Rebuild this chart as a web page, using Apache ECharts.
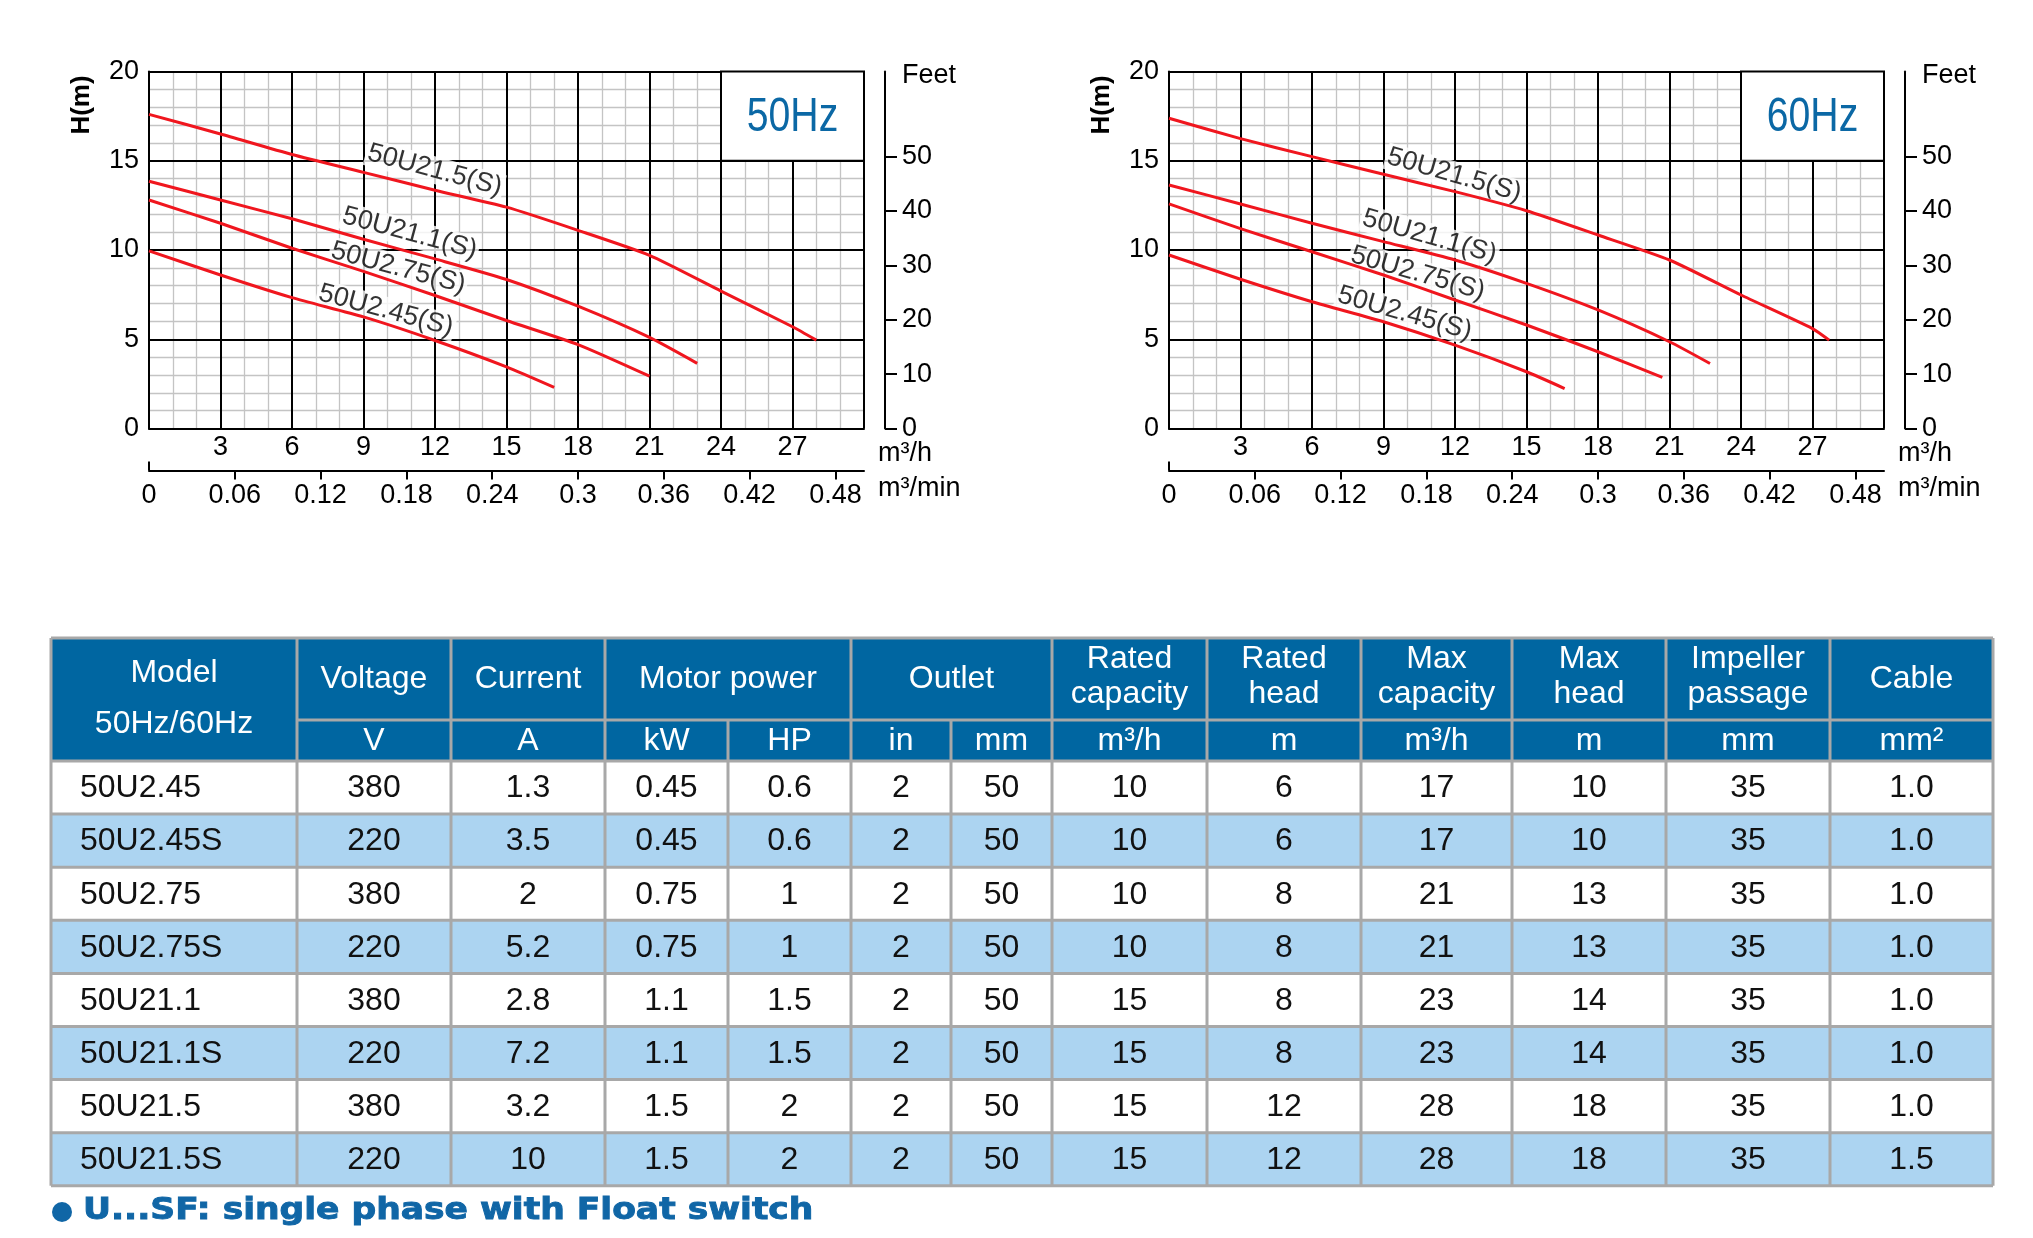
<!DOCTYPE html>
<html>
<head>
<meta charset="utf-8">
<title>50U pump curves</title>
<script src="https://cdn.jsdelivr.net/npm/echarts@6.0.0/dist/echarts.min.js"></script>
<style>
html, body { margin: 0; padding: 0; background: #fff; }
#main { width: 2033px; height: 1238px; }
</style>
</head>
<body>
<div id="main"></div>
<script>
// curve names
var curveNames = ['50U2.45(S)', '50U2.75(S)', '50U21.1(S)', '50U21.5(S)'];

// 50Hz : flow m3/h, head m
var q50_245 = [0, 3, 6, 9, 12, 15, 17];
var h50_245 = [9.95, 8.6, 7.33, 6.25, 4.93, 3.45, 2.3];
var q50_275 = [0, 3, 6, 9, 12, 15, 18, 21];
var h50_275 = [12.8, 11.5, 10.1, 8.8, 7.45, 6.05, 4.7, 2.93];
var q50_211 = [0, 3, 6, 9, 12, 15, 18, 21, 23];
var h50_211 = [13.85, 12.8, 11.75, 10.6, 9.5, 8.35, 6.85, 5.1, 3.65];
var q50_215 = [0, 3, 6, 9, 12, 15, 18, 21, 24, 27, 28];
var h50_215 = [17.6, 16.5, 15.35, 14.35, 13.35, 12.4, 11.1, 9.7, 7.7, 5.7, 4.95];

// 60Hz : flow m3/h, head m
var q60_245 = [0, 3, 6, 9, 12, 15, 16.6];
var h60_245 = [9.72, 8.36, 7.1, 5.98, 4.67, 3.18, 2.24];
var q60_275 = [0, 3, 6, 9, 12, 15, 18, 20.7];
var h60_275 = [12.58, 11.2, 9.9, 8.6, 7.2, 5.8, 4.3, 2.86];
var q60_211 = [0, 3, 6, 9, 12, 15, 18, 21, 22.7];
var h60_211 = [13.64, 12.58, 11.5, 10.47, 9.44, 8.13, 6.64, 4.86, 3.64];
var q60_215 = [0, 3, 6, 9, 12, 15, 18, 21, 24, 27, 27.7];
var h60_215 = [17.38, 16.24, 15.23, 14.24, 13.27, 12.2, 10.84, 9.44, 7.48, 5.6, 4.95];

// where the curve names sit (flow, head)
var lab50Q = [9.94, 10.46, 10.94, 11.99];
var lab50H = [6.62, 8.99, 10.94, 14.47];
var lab60Q = [9.89, 10.44, 10.93, 11.97];
var lab60H = [6.45, 8.69, 10.75, 14.2];

// tick labels
var flowTicks = [3, 6, 9, 12, 15, 18, 21, 24, 27];
var minTicks = [0, 0.06, 0.12, 0.18, 0.24, 0.3, 0.36, 0.42, 0.48];
var feetTicks = [0, 10, 20, 30, 40, 50];
var freqNames = ['50Hz', '60Hz'];

// table
var tModel = ['50U2.45', '50U2.45S', '50U2.75', '50U2.75S', '50U21.1', '50U21.1S', '50U21.5', '50U21.5S'];
var tVolt = ['380', '220', '380', '220', '380', '220', '380', '220'];
var tCurrent = ['1.3', '3.5', '2', '5.2', '2.8', '7.2', '3.2', '10'];
var tKw = ['0.45', '0.45', '0.75', '0.75', '1.1', '1.1', '1.5', '1.5'];
var tHp = ['0.6', '0.6', '1', '1', '1.5', '1.5', '2', '2'];
var tIn = ['2', '2', '2', '2', '2', '2', '2', '2'];
var tMm = ['50', '50', '50', '50', '50', '50', '50', '50'];
var tRatedQ = ['10', '10', '10', '10', '15', '15', '15', '15'];
var tRatedH = ['6', '6', '8', '8', '8', '8', '12', '12'];
var tMaxQ = ['17', '17', '21', '21', '23', '23', '28', '28'];
var tMaxH = ['10', '10', '13', '13', '14', '14', '18', '18'];
var tPassage = ['35', '35', '35', '35', '35', '35', '35', '35'];
var tCable = ['1.0', '1.0', '1.0', '1.0', '1.0', '1.0', '1.0', '1.5'];

var headMain = ['Voltage', 'Current', 'Motor power', 'Outlet', 'Rated\ncapacity', 'Rated\nhead',
  'Max\ncapacity', 'Max\nhead', 'Impeller\npassage', 'Cable'];
var headSpan = [1, 1, 2, 2, 1, 1, 1, 1, 1, 1];
var headUnits = ['V', 'A', 'kW', 'HP', 'in', 'mm', 'm³/h', 'm', 'm³/h', 'm', 'mm', 'mm²'];
var footNote = 'U...SF: single phase with Float switch';

// ---- layout ----
var FONT = '"Liberation Sans", Arial, sans-serif';
var RED = '#f0161e';
var BLUE = '#0066a1';
var grids = [
  { left: 149, top: 71.5, width: 715, height: 357 },
  { left: 1169, top: 71.5, width: 715, height: 357 }
];

function pts(q, h) {
  return q.map(function (v, i) { return [v, h[i]]; });
}

var curveSets = [
  [[q50_245, h50_245], [q50_275, h50_275], [q50_211, h50_211], [q50_215, h50_215]],
  [[q60_245, h60_245], [q60_275, h60_275], [q60_211, h60_211], [q60_215, h60_215]]
];
var labelSets = [[lab50Q, lab50H], [lab60Q, lab60H]];
var labelRot = [-15, -16];

var xAxes = [], yAxes = [], series = [], texts = [];
var black = { color: '#000', width: 2 };

grids.forEach(function (g, gi) {
  var xi = xAxes.length, yi = yAxes.length;
  // minor grid (drawn below the major lines)
  xAxes.push({
    gridIndex: gi, type: 'value', position: 'bottom', min: 0, max: 30, interval: 3, z: 0,
    axisLine: { show: false, onZero: false }, axisTick: { show: false }, axisLabel: { show: false },
    splitLine: { show: false },
    minorTick: { show: false, splitNumber: 3 },
    minorSplitLine: { show: true, lineStyle: { color: '#c4c4c4', width: 1.3 } }
  });
  // m3/h
  xAxes.push({
    gridIndex: gi, type: 'value', position: 'bottom', min: 0, max: 30, interval: 3, z: 1,
    axisLine: { show: true, onZero: false, lineStyle: black },
    axisTick: { show: false },
    axisLabel: { customValues: flowTicks, fontSize: 27, color: '#000', margin: 6 },
    splitLine: { show: true, lineStyle: black }
  });
  // m3/min
  xAxes.push({
    gridIndex: gi, type: 'value', position: 'bottom', offset: 42, min: 0, max: 0.5, interval: 0.06, z: 1,
    axisLine: { show: true, onZero: false, lineStyle: black },
    axisTick: { show: true, customValues: minTicks.slice(1), length: 9, lineStyle: black },
    axisLabel: {
      customValues: minTicks, fontSize: 27, color: '#000', margin: 12,
      formatter: function (v) { return String(+(+v).toFixed(2)); }
    },
    splitLine: { show: false }
  });
  // upward mark at 0 on the m3/min line
  xAxes.push({
    gridIndex: gi, type: 'value', position: 'bottom', offset: 42, min: 0, max: 0.5, z: 1,
    axisLine: { show: false, onZero: false },
    axisTick: { show: true, inside: true, customValues: [0], length: 9, lineStyle: black },
    axisLabel: { show: false }, splitLine: { show: false }
  });

  yAxes.push({
    gridIndex: gi, type: 'value', position: 'left', min: 0, max: 20, interval: 5, z: 0,
    axisLine: { show: false }, axisTick: { show: false }, axisLabel: { show: false },
    splitLine: { show: false },
    minorTick: { show: false, splitNumber: 5 },
    minorSplitLine: { show: true, lineStyle: { color: '#c4c4c4', width: 1.3 } }
  });
  yAxes.push({
    gridIndex: gi, type: 'value', position: 'left', min: 0, max: 20, interval: 5, z: 1,
    axisLine: { show: true, onZero: false, lineStyle: black },
    axisTick: { show: false },
    axisLabel: { fontSize: 27, color: '#000', margin: 10 },
    splitLine: { show: true, lineStyle: black }
  });
  // feet
  yAxes.push({
    gridIndex: gi, type: 'value', position: 'right', offset: 21, min: 0, max: 20 / 0.3048, z: 1,
    axisLine: { show: true, onZero: false, lineStyle: black },
    axisTick: { show: true, customValues: feetTicks, length: 12, lineStyle: black },
    axisLabel: { customValues: feetTicks, fontSize: 27, color: '#000', margin: 17 },
    splitLine: { show: false }
  });

  curveSets[gi].forEach(function (c, ci) {
    var s = {
      type: 'line', name: curveNames[ci], xAxisIndex: xi + 1, yAxisIndex: yi + 1,
      data: pts(c[0], c[1]), smooth: 0.2, symbol: 'none',
      lineStyle: { color: RED, width: 3 }, z: 3, silent: true
    };
    if (ci === 3) {
      // white cell holding the frequency tag
      s.markArea = {
        silent: true,
        itemStyle: { color: '#fff', opacity: 1, borderColor: '#000', borderWidth: 2 },
        data: [[{ coord: [24, 15] }, { coord: [30, 20] }]]
      };
    }
    series.push(s);
  });

  series.push({
    type: 'scatter', xAxisIndex: xi + 1, yAxisIndex: yi + 1, z: 2, silent: true,
    symbolSize: 1, itemStyle: { color: 'rgba(0,0,0,0)' },
    data: curveNames.map(function (n, i) {
      return { name: n, value: [labelSets[gi][0][i], labelSets[gi][1][i]] };
    }),
    label: {
      show: true, position: 'inside', formatter: '{b}', rotate: labelRot[gi],
      fontSize: 27, color: '#000', backgroundColor: '#fff', padding: [0, 2]
    }
  });

  var right = g.left + g.width;
  texts.push({ type: 'text', x: g.left + g.width * 0.9, y: g.top + g.height * 0.125 + 1, scaleX: 0.8, z: 20,
    style: { text: freqNames[gi], font: '49px ' + FONT, fill: '#0b68a5', align: 'center', verticalAlign: 'middle' } });
  texts.push({ type: 'text', x: g.left - 67, y: g.top + 33.5, rotation: Math.PI / 2,
    style: { text: 'H(m)', font: 'bold 26px ' + FONT, fill: '#000', align: 'center', verticalAlign: 'middle' } });
  texts.push({ type: 'text', x: right + 38, y: g.top + 4.5,
    style: { text: 'Feet', font: '27px ' + FONT, fill: '#000', align: 'left', verticalAlign: 'middle' } });
  texts.push({ type: 'text', x: right + 14, y: 454,
    style: { text: 'm³/h', font: '27px ' + FONT, fill: '#000', align: 'left', verticalAlign: 'middle' } });
  texts.push({ type: 'text', x: right + 14, y: 489,
    style: { text: 'm³/min', font: '27px ' + FONT, fill: '#000', align: 'left', verticalAlign: 'middle' } });
});

// ---- table ----
var colX = [51, 297, 451, 605, 728, 851, 951, 1052, 1207, 1361, 1512, 1666, 1830, 1993];
var tTop = 638, tMid = 720, tHead = 761, rowH = 53.1;
var cols = [tModel, tVolt, tCurrent, tKw, tHp, tIn, tMm, tRatedQ, tRatedH, tMaxQ, tMaxH, tPassage, tCable];
var nRows = tModel.length;
var tBottom = tHead + nRows * rowH;
var gray = '#a8a8a8';
var tableEls = [];

tableEls.push({ type: 'rect', shape: { x: colX[0], y: tTop, width: colX[13] - colX[0], height: tHead - tTop }, style: { fill: BLUE } });
for (var r = 0; r < nRows; r++) {
  tableEls.push({ type: 'rect', shape: { x: colX[0], y: tHead + r * rowH, width: colX[13] - colX[0], height: rowH },
    style: { fill: r % 2 ? '#acd4f1' : '#fff' } });
}
function hline(x1, x2, y) {
  tableEls.push({ type: 'line', shape: { x1: x1, y1: y, x2: x2, y2: y }, style: { stroke: gray, lineWidth: 3 } });
}
function vline(x, y1, y2) {
  tableEls.push({ type: 'line', shape: { x1: x, y1: y1, x2: x, y2: y2 }, style: { stroke: gray, lineWidth: 3 } });
}
hline(colX[0], colX[13], tTop);
hline(colX[1], colX[13], tMid);
for (var r2 = 0; r2 <= nRows; r2++) hline(colX[0], colX[13], tHead + r2 * rowH);
for (var c = 0; c < colX.length; c++) {
  var inner = (c === 4 || c === 6);
  vline(colX[c], inner ? tMid : tTop, tBottom);
}
function cellText(txt, x, y, size, color, align, lh) {
  tableEls.push({ type: 'text', x: x, y: y,
    style: { text: txt, font: size + 'px ' + FONT, fill: color, align: align || 'center', verticalAlign: 'middle', lineHeight: lh || size } });
}
cellText('Model\n50Hz/60Hz', (colX[0] + colX[1]) / 2, 699, 32, '#fff', 'center', 51);
var ci2 = 1;
headMain.forEach(function (h, i) {
  var x0 = colX[ci2], x1 = colX[ci2 + headSpan[i]];
  cellText(h, (x0 + x1) / 2, h.indexOf('\n') >= 0 ? 677 : 679, 32, '#fff', 'center', 35);
  ci2 += headSpan[i];
});
headUnits.forEach(function (u, i) {
  cellText(u, (colX[i + 1] + colX[i + 2]) / 2, 741, 32, '#fff');
});
cols.forEach(function (col, k) {
  col.forEach(function (v, r3) {
    var y = tHead + r3 * rowH + rowH / 2 + 1;
    if (k === 0) cellText(v, colX[0] + 29, y, 32, '#111', 'left');
    else cellText(v, (colX[k] + colX[k + 1]) / 2, y, 32, '#111');
  });
});

// footnote
tableEls.push({ type: 'circle', shape: { cx: 62, cy: 1212, r: 10 }, style: { fill: '#1066a6' } });
tableEls.push({ type: 'text', x: 83, y: 1211, scaleX: 1.15,
  style: { text: footNote, font: 'bold 30px "DejaVu Sans", sans-serif', fill: '#1066a6',
    stroke: '#1066a6', lineWidth: 0.9, align: 'left', verticalAlign: 'middle' } });

var chart = echarts.init(document.getElementById('main'));
chart.setOption({
  animation: false,
  backgroundColor: '#fff',
  textStyle: { fontFamily: FONT },
  grid: grids,
  xAxis: xAxes,
  yAxis: yAxes,
  series: series,
  graphic: { elements: texts.concat(tableEls) }
});
window.onresize = chart.resize;
</script>
</body>
</html>
